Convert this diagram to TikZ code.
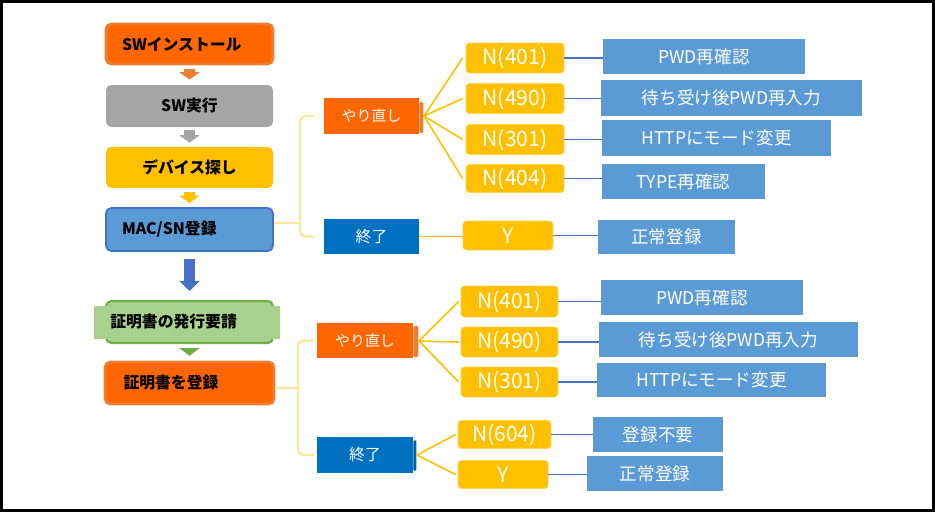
\documentclass[tikz,border=0pt]{standalone}
\usepackage{fontspec}
\setmainfont{Noto Sans CJK JP}
\usetikzlibrary{arrows.meta,calc}
\definecolor{org}{HTML}{FF6600}
\definecolor{orgedge}{HTML}{ED7D31}
\definecolor{gry}{HTML}{A5A5A5}
\definecolor{ylw}{HTML}{FFC000}
\definecolor{blu}{HTML}{5B9BD5}
\definecolor{bluedge}{HTML}{4472C4}
\definecolor{grn}{HTML}{A9D18E}
\definecolor{grnedge}{HTML}{70AD47}
\definecolor{dblu}{HTML}{0070C0}
\definecolor{brace}{HTML}{FFE699}
\tikzset{
  sz/.style 2 args={minimum width=#1*0.02cm, minimum height=#2*0.02cm},
  flow/.style={inner sep=0pt, rounded corners=3pt, font=\fontsize{9}{10}\selectfont\bfseries},
  lft/.style 2 args={inner xsep=#1, text width=#2, align=left},
  blk/.style={line width=0.22cm, -{Triangle[width=0.4cm,length=0.15cm]}},
  redobox/.style={fill=org, inner sep=0pt, text=white, font=\fontsize{8.5}{10}\selectfont},
  endbox/.style={fill=dblu, inner sep=0pt, text=white, font=\fontsize{9}{10}\selectfont},
  codebox/.style={fill=ylw, draw=ylw!70!white, rounded corners=2pt, inner sep=0pt, text=white, font=\fontsize{12}{13}\selectfont},
  resbox/.style={fill=blu, inner sep=0pt, text=white, font=\fontsize{10}{12}\selectfont},
  brk/.style={draw=brace, line width=1.3pt, rounded corners=0.12cm},
  fan/.style={draw=ylw, line width=0.9pt},
  lnk/.style={draw=bluedge, line width=1.1pt}
}
\begin{document}
\begin{tikzpicture}[x=0.02cm, y=-0.02cm]
\useasboundingbox (0,0) rectangle (935,512);
\draw[line width=1.2pt] (1.5,1.5) rectangle (933.5,510.5);

% left flow
\node[flow, sz={167}{40}, lft={0.32cm}{2.7cm}, fill=org, draw=orgedge, line width=1.5pt] (inst) at (189.5,44) {SWインストール};
\node[flow, sz={167}{42}, fill=gry] (exec) at (189.5,106) {SW実行};
\node[flow, sz={167}{41}, fill=ylw] (find) at (189.5,167.5) {デバイス探し};
\node[flow, sz={167}{43}, lft={0.32cm}{2.7cm}, fill=blu, draw=bluedge, line width=1pt] (mac) at (189.5,229.5) {MAC/SN登録};
\node[flow, sz={167}{42}, fill=grn, draw=grnedge, line width=1.2pt] (cert) at (189.5,322) {};
\fill[grn] (94,306) rectangle (280,339);
\node[font=\fontsize{9}{10}\selectfont\bfseries, anchor=west, inner sep=0pt] (certtxt) at (110,322) {証明書の発行要請};
\node[flow, sz={169}{42}, lft={0.37cm}{2.64cm}, fill=org, draw=orgedge, line width=1.5pt] (reg) at (189.5,383) {証明書を登録};

\draw[blk, draw=orgedge, shorten <=0.08cm, shorten >=0.1cm] (inst) -- (exec);
\draw[blk, draw=gry, shorten <=0.06cm, shorten >=0.08cm] (exec) -- (find);
\draw[blk, draw=ylw, shorten <=0.08cm, shorten >=0.08cm] (find) -- (mac);
\draw[line width=0.22cm, -{Triangle[width=0.4cm,length=0.2cm]}, draw=bluedge, shorten <=0.14cm, shorten >=0.18cm] (mac) -- (cert);
\draw[blk, draw=grnedge, shorten <=0.08cm, shorten >=0.1cm] (cert) -- (reg);

% upper branch
\node[redobox, sz={95}{36}] (redo1) at (371.5,116) {やり直し};
\fill[orgedge, rounded corners=1pt] ($(redo1.north east)+(0,4)$) rectangle ($(redo1.south east)+(4,-1)$);
\node[endbox, sz={95}{35}] (end1) at (371.5,236.5) {終了};

\coordinate (j1) at (300,223);
\draw[brk] (mac.east |- j1) -- (j1);
\draw[brk] ($(redo1.west)+(-9,0)$) -| (j1) |- ($(end1.west)+(-9,0)$);

\node[codebox, sz={98}{30}] (a401) at (515,58) {N(401)};
\node[codebox, sz={98}{30}] (a490) at (515,98.5) {N(490)};
\node[codebox, sz={98}{30}] (a301) at (515,139.5) {N(301)};
\node[codebox, sz={98}{28}] (a404) at (515,178.5) {N(404)};
\node[codebox, sz={90}{29}] (aY) at (508,235.5) {Y};

\coordinate (f1) at (424,116);
\foreach \n in {a401,a490,a301,a404}
  \draw[fan] (f1) -- ($(\n.west)+(-3,0)$);
\draw[fan] (end1.east) -- (end1.east -| aY.west);

\node[resbox, sz={202}{35}] (ra1) at (704,56.5) {PWD再確認};
\node[resbox, sz={261}{36}] (ra2) at (731.5,98) {待ち受け後PWD再入力};
\node[resbox, sz={229}{36}] (ra3) at (716.5,138) {HTTPにモード変更};
\node[resbox, sz={163}{35}] (ra4) at (683.5,181.5) {TYPE再確認};
\node[resbox, sz={137}{34}] (raY) at (666.5,237) {正常登録};

\foreach \n/\r in {a401/ra1,a490/ra2,a301/ra3,a404/ra4,aY/raY}
  \draw[lnk] (\n.east) -- (\n.east -| \r.west);

% lower branch
\node[redobox, sz={96}{35}] (redo2) at (365,340.5) {やり直し};
\fill[orgedge, rounded corners=1pt] ($(redo2.north east)+(0,3)$) rectangle ($(redo2.south east)+(5,-1)$);
\node[endbox, sz={96}{36}] (end2) at (365,455) {終了};
\fill[dblu!85!black, rounded corners=1pt] ($(end2.north east)+(0,3)$) rectangle ($(end2.south east)+(3,-2)$);

\coordinate (j2) at (298,388);
\draw[brk] (reg.east |- j2) -- (j2);
\draw[brk] ($(redo2.west)+(-2,0)$) -| (j2) |- ($(end2.west)+(-2,0)$);

\node[codebox, sz={97}{31}] (b401) at (509.5,301.5) {N(401)};
\node[codebox, sz={97}{30}] (b490) at (509.5,342) {N(490)};
\node[codebox, sz={97}{30}] (b301) at (509.5,382) {N(301)};
\node[codebox, sz={93}{28}] (b604) at (504.5,434.5) {N(604)};
\node[codebox, sz={90}{28}] (bY) at (503,474.5) {Y};

\coordinate (f2) at (419,341);
\foreach \n in {b401,b490,b301}
  \draw[fan] (f2) -- ($(\n.west)+(-2,0)$);
\coordinate (f3) at (417,455);
\foreach \n in {b604,bY}
  \draw[fan] (f3) -- ($(\n.west)+(-2,0)$);

\node[resbox, sz={202}{35}] (rb1) at (702,297.5) {PWD再確認};
\node[resbox, sz={259}{35}] (rb2) at (728.5,339.5) {待ち受け後PWD再入力};
\node[resbox, sz={229}{34}] (rb3) at (711.5,380) {HTTPにモード変更};
\node[resbox, sz={130}{35}] (rb604) at (658,434.5) {登録不要};
\node[resbox, sz={136}{35}] (rbY) at (655,473.5) {正常登録};

\foreach \n/\r in {b401/rb1,b490/rb2,b301/rb3,b604/rb604,bY/rbY}
  \draw[lnk] (\n.east) -- (\n.east -| \r.west);
\end{tikzpicture}
\end{document}
